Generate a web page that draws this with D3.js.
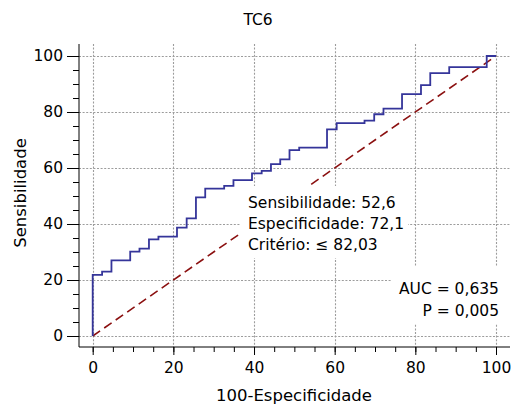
<!DOCTYPE html>
<html><head><meta charset="utf-8">
<script src="https://cdn.jsdelivr.net/npm/d3@7"></script>
<style>body{margin:0;background:#fff}svg{display:block}text{font-family:"DejaVu Sans",sans-serif;fill:#000}</style>
</head><body><svg id="c" width="514" height="406"></svg>
<script>
// 100-Especificidade (x) and Sensibilidade (y) at each step of the ROC curve
const fpr  = [0, 0, 2.33, 4.65, 9.3, 11.6, 13.95, 16.3, 20.9, 23.3, 25.6, 27.9, 32.6, 34.9, 39.5, 41.9, 44.2, 46.5, 48.8, 51.2, 58.1, 60.5, 67.4, 69.8, 72.1, 76.7, 81.4, 83.7, 88.4, 97.7, 100];
const sens = [0, 21.8, 23.0, 27.0, 30.1, 31.2, 34.5, 35.5, 38.7, 42.0, 49.5, 52.6, 53.6, 55.7, 58.1, 59.0, 61.4, 63.1, 66.4, 67.3, 73.8, 76.0, 76.9, 79.2, 81.2, 86.4, 89.6, 93.9, 96.0, 100, 100];
const diagonal = [[0,0],[100,100]];
const ticks = [0, 20, 40, 60, 80, 100];
const minorTicks = d3.range(0, 101, 5);
const title = "TC6";
const xLabel = "100-Especificidade";
const yLabel = "Sensibilidade";
const criterionText = ["Sensibilidade: 52,6", "Especificidade: 72,1", "Critério: \u2264 82,03"];
const aucText = ["AUC = 0,635", "P = 0,005"];

const svg = d3.select("#c");
const x = d3.scaleLinear().domain([0,100]).range([92.7, 496]);
const y = d3.scaleLinear().domain([0,100]).range([336, 56]);
const pLeft = 79, pBottom = 347, pRight = 510, pTop = 44;
const FONT = "'DejaVu Sans',sans-serif";

// grid
const g = svg.append("g").attr("stroke","#9c9c9c").attr("stroke-width",1.1).attr("stroke-dasharray","2,1.6");
ticks.forEach(t=>{
  g.append("line").attr("x1",pLeft).attr("x2",pRight).attr("y1",Math.round(y(t))+0.5).attr("y2",Math.round(y(t))+0.5);
  g.append("line").attr("y1",pTop).attr("y2",pBottom).attr("x1",Math.round(x(t))+0.5).attr("x2",Math.round(x(t))+0.5);
});

// diagonal
svg.append("path").datum(diagonal)
  .attr("d", d3.line().x(d=>x(d[0])).y(d=>y(d[1])))
  .attr("fill","none").attr("stroke","#8b1010").attr("stroke-width",1.6).attr("stroke-dasharray","9,5");

// ROC curve
const pts = fpr.map((v,i)=>[v, sens[i]]);
svg.append("path").datum(pts)
  .attr("d", d3.line().x(d=>x(d[0])).y(d=>y(d[1])).curve(d3.curveStepAfter))
  .attr("fill","none").attr("stroke","#35359a").attr("stroke-width",1.8);

// text boxes
svg.append("rect").attr("x",240).attr("y",186).attr("width",168).attr("height",72).attr("fill","#fff");
const ct = svg.append("text").attr("font-size",15.5);
criterionText.forEach((s,i)=>ct.append("tspan").attr("x",248).attr("y",208+i*21).text(s));

svg.append("rect").attr("x",391).attr("y",266).attr("width",120).attr("height",58).attr("fill","#fff");
const at = svg.append("text").attr("font-size",15.5).attr("text-anchor","end");
aucText.forEach((s,i)=>at.append("tspan").attr("x",499).attr("y",294+i*22).text(s));

// axes
const xa = svg.append("g").attr("transform",`translate(0,${pBottom})`);
xa.append("line").attr("x1",pLeft).attr("x2",pRight).attr("stroke","#000");
xa.append("g").call(d3.axisBottom(x).tickValues(minorTicks).tickSize(5).tickFormat("")).select(".domain").remove();
xa.append("g").call(d3.axisBottom(x).tickValues(ticks).tickSize(8).tickPadding(7)).select(".domain").remove();
xa.selectAll("text").attr("font-size",15.5).style("font-family",FONT);

const ya = svg.append("g").attr("transform",`translate(${pLeft},0)`);
ya.append("line").attr("y1",pTop).attr("y2",pBottom).attr("stroke","#000");
ya.append("g").call(d3.axisLeft(y).tickValues(minorTicks).tickSize(6).tickFormat("")).select(".domain").remove();
ya.append("g").call(d3.axisLeft(y).tickValues(ticks).tickSize(12).tickPadding(4)).select(".domain").remove();
ya.selectAll("text").attr("font-size",15.5).style("font-family",FONT);

svg.append("text").attr("x",258).attr("y",25).attr("text-anchor","middle").attr("font-size",15.5).text(title);
svg.append("text").attr("x",294).attr("y",401).attr("text-anchor","middle").attr("font-size",16.5).text(xLabel);
svg.append("text").attr("transform","translate(26,193) rotate(-90)").attr("text-anchor","middle").attr("font-size",16.5).text(yLabel);
</script></body></html>
